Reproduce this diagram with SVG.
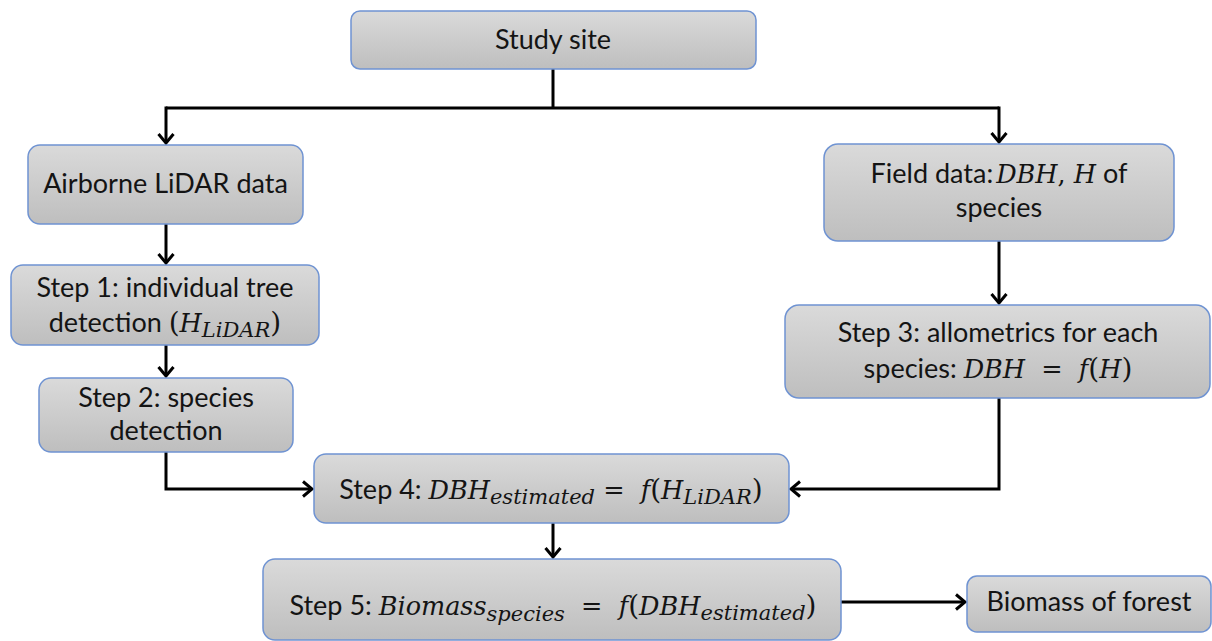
<svg xmlns="http://www.w3.org/2000/svg" width="1212" height="641" viewBox="0 0 1212 641">
  <defs>
    <linearGradient id="boxFill" x1="0" y1="0" x2="0" y2="1">
      <stop offset="0" stop-color="#dadada"/>
      <stop offset="1" stop-color="#bebebe"/>
    </linearGradient>
    <marker id="arrow" viewBox="0 0 12 18" refX="10" refY="9" markerWidth="12" markerHeight="18" markerUnits="userSpaceOnUse" orient="auto">
      <path d="M1,1.5 L10,9 L1,16.5" fill="none" stroke="#000" stroke-width="3" stroke-linejoin="miter"/>
    </marker>
  </defs>
  <style>
    .box { fill: url(#boxFill); stroke: #6f93d2; stroke-width: 1.5; }
    .lbl { font-family: Lato, "Open Sans", sans-serif; font-size: 27px; fill: #141414; text-anchor: middle; }
    .m { font-family: "DejaVu Serif", serif; font-style: italic; font-size: 25.5px; }
    .mu { font-family: "DejaVu Serif", serif; font-style: normal; font-size: 25.5px; }
    .par { font-family: "DejaVu Serif", serif; font-style: normal; font-size: 28px; }
    .sub { font-family: "DejaVu Serif", serif; font-style: italic; font-size: 21px; }
    .wire { fill: none; stroke: #000; stroke-width: 3; }
  </style>
  <rect width="1212" height="641" fill="#fff"/>

  <!-- connectors -->
  <g id="connectors">
    <polyline class="wire" points="553,69 553,108"/>
    <polyline class="wire" points="166,108 999,108"/>
    <polyline class="wire" points="166,106.5 166,143" marker-end="url(#arrow)"/>
    <polyline class="wire" points="999,106.5 999,142" marker-end="url(#arrow)"/>
    <polyline class="wire" points="166,224 166,263" marker-end="url(#arrow)"/>
    <polyline class="wire" points="166,345 166,376" marker-end="url(#arrow)"/>
    <polyline class="wire" points="999,241 999,303" marker-end="url(#arrow)"/>
    <polyline class="wire" points="166,452 166,489 312,489" marker-end="url(#arrow)"/>
    <polyline class="wire" points="999,398 999,489 791,489" marker-end="url(#arrow)"/>
    <polyline class="wire" points="553,523 553,557" marker-end="url(#arrow)"/>
    <polyline class="wire" points="841,602 965,602" marker-end="url(#arrow)"/>
  </g>

  <g id="study-site">
    <rect class="box" x="351" y="11" width="405" height="58" rx="9"/>
    <text class="lbl" x="553" y="49">Study site</text>
  </g>

  <g id="airborne-lidar">
    <rect class="box" x="28" y="145" width="275" height="79" rx="12"/>
    <text class="lbl" x="165.5" y="193">Airborne LiDAR data</text>
  </g>

  <g id="step1">
    <rect class="box" x="11" y="265" width="308" height="80" rx="12"/>
    <text class="lbl" x="165" y="297">Step 1: individual tree</text>
    <text class="lbl" x="165" y="332" xml:space="preserve">detection <tspan class="par">(</tspan><tspan class="m">H</tspan><tspan class="sub" dy="5">LiDAR</tspan><tspan class="par" dy="-5">)</tspan></text>
  </g>

  <g id="step2">
    <rect class="box" x="39" y="378" width="254" height="74" rx="12"/>
    <text class="lbl" x="166" y="407">Step 2: species</text>
    <text class="lbl" x="166" y="440">detection</text>
  </g>

  <g id="field-data">
    <rect class="box" x="824" y="144" width="350" height="97" rx="14"/>
    <text class="lbl" x="999" y="183" xml:space="preserve">Field data:<tspan class="m" dx="3">DBH</tspan><tspan class="mu">, </tspan><tspan class="m">H</tspan> of</text>
    <text class="lbl" x="999" y="217">species</text>
  </g>

  <g id="step3">
    <rect class="box" x="785" y="305" width="425" height="93" rx="14"/>
    <text class="lbl" x="998" y="342">Step 3: allometrics for each</text>
    <text class="lbl" x="998" y="378" xml:space="preserve">species: <tspan class="m">DBH</tspan><tspan class="mu">  =  </tspan><tspan class="m">f</tspan><tspan class="par">(</tspan><tspan class="m">H</tspan><tspan class="par">)</tspan></text>
  </g>

  <g id="step4">
    <rect class="box" x="314" y="454" width="475" height="69" rx="12"/>
    <text class="lbl" x="551" y="499" xml:space="preserve">Step 4: <tspan class="m">DBH</tspan><tspan class="sub" dy="5">estimated</tspan><tspan class="mu" dy="-5"> =  </tspan><tspan class="m">f</tspan><tspan class="par">(</tspan><tspan class="m">H</tspan><tspan class="sub" dy="5">LiDAR</tspan><tspan class="par" dy="-5">)</tspan></text>
  </g>

  <g id="step5">
    <rect class="box" x="263" y="559" width="578" height="81" rx="12"/>
    <text class="lbl" x="553" y="615" xml:space="preserve">Step 5: <tspan class="m">Biomass</tspan><tspan class="sub" dy="6">species</tspan><tspan class="mu" dy="-6">  =  </tspan><tspan class="m">f</tspan><tspan class="par">(</tspan><tspan class="m">DBH</tspan><tspan class="sub" dy="5">estimated</tspan><tspan class="par" dy="-5">)</tspan></text>
  </g>

  <g id="biomass-forest">
    <rect class="box" x="967" y="576" width="244" height="56" rx="10"/>
    <text class="lbl" x="1089" y="611">Biomass of forest</text>
  </g>
</svg>
